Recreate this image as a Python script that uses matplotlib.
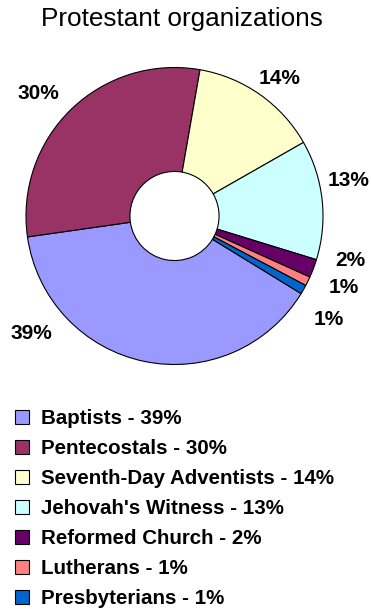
import matplotlib
matplotlib.use("Agg")
import matplotlib.pyplot as plt

# 新教组织占比
names = [
    "Baptists",
    "Pentecostals",
    "Seventh-Day Adventists",
    "Jehovah's Witness",
    "Reformed Church",
    "Lutherans",
    "Presbyterians",
]
shares = [39, 30, 14, 13, 2, 1, 1]
colors = ["#9999FF", "#993366", "#FFFFCC", "#CCFFFF", "#660066", "#FF8080", "#0066CC"]

# 百分比标签的位置（以半径为单位）
label_xy = [
    (-0.962, -0.790),
    (-0.917, 0.826),
    (0.710, 0.927),
    (1.170, 0.242),
    (1.182, -0.301),
    (1.137, -0.483),
    (1.036, -0.700),
]

plt.rcParams["font.family"] = ["Liberation Sans", "DejaVu Sans"]

W, H = 371, 609
fig = plt.figure(figsize=(W / 100, H / 100), dpi=100)
ax = fig.add_axes([0, 0, 1, 1])

cx, cy, r = 174.5, H - 216, 148.5  # 像素
wedges, _ = ax.pie(
    shares,
    colors=colors,
    startangle=-31.5,
    counterclock=False,
    radius=1.0,
    wedgeprops=dict(width=0.70, edgecolor="black", linewidth=0.8),
)
ax.set_xlim(-cx / r, (W - cx) / r)
ax.set_ylim(-cy / r, (H - cy) / r)
ax.set_aspect("equal")
ax.axis("off")

for v, (x, y) in zip(shares, label_xy):
    ax.text(x, y, f"{v}%", ha="center", va="center", fontsize=15, fontweight="bold")

fig.text(181.7 / W, 1 - 26 / H, "Protestant organizations", ha="center", va="baseline",
         fontsize=18.8)

leg = fig.legend(
    wedges,
    [f"{n} - {v}%" for n, v in zip(names, shares)],
    loc="upper left",
    bbox_to_anchor=(15.3 / W, 1 - 409.5 / H),
    frameon=False,
    prop=dict(weight="bold", size=14.8),
    handlelength=0.69,
    handleheight=0.69,
    handletextpad=0.55,
    labelspacing=0.53,
    borderpad=0,
    borderaxespad=0,
)

fig.savefig("out.png", dpi=100)
